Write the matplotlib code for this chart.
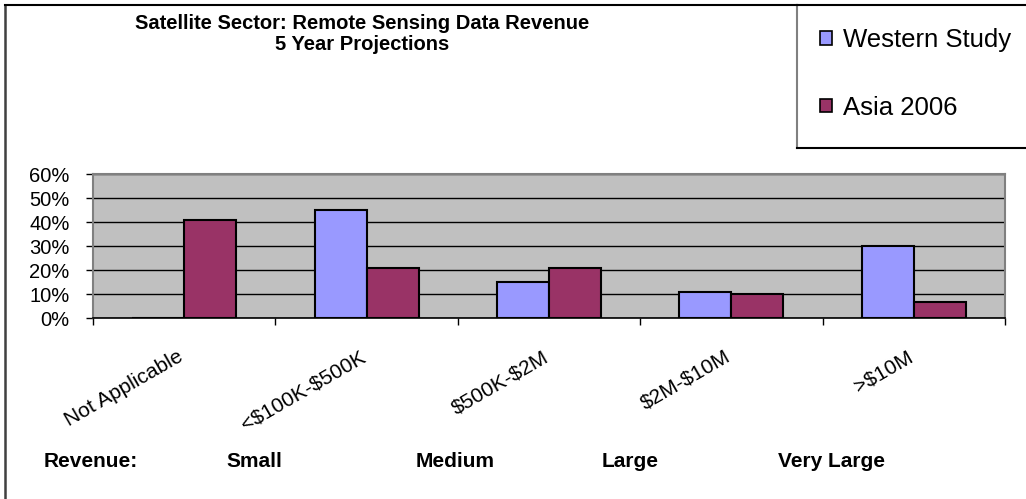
import matplotlib

matplotlib.use("Agg")
import matplotlib.pyplot as plt
import matplotlib.transforms as mtransforms
import numpy as np
from matplotlib.lines import Line2D
from matplotlib.patches import Patch
from matplotlib.ticker import PercentFormatter

plt.rcParams["font.family"] = ["Liberation Sans", "DejaVu Sans"]
plt.rcParams["text.parse_math"] = False  # labels carry literal $ signs

categories = ["Not Applicable", "<$100K-$500K", "$500K-$2M", "$2M-$10M", ">$10M"]
size_classes = ["Revenue:", "Small", "Medium", "Large", "Very Large"]
western_study = [0, 45, 15, 11, 30]
asia_2006 = [41, 21, 21, 10, 6.5]
series_names = ["Western Study", "Asia 2006"]

colors = {"western": "#9999ff", "asia": "#993366", "plot_bg": "#c0c0c0"}

W, H = 1026, 499
fig = plt.figure(figsize=(W / 100, H / 100), dpi=100, facecolor="white")

# plot area in pixel terms
ax = fig.add_axes([93 / W, (H - 318) / H, 912 / W, 144 / H])
ax.set_facecolor(colors["plot_bg"])

x = np.arange(len(categories))
bw = 0.285
ax.bar(x - bw / 2, western_study, bw, color=colors["western"], edgecolor="black", linewidth=1.5, zorder=3)
ax.bar(x + bw / 2, asia_2006, bw, color=colors["asia"], edgecolor="black", linewidth=1.5, zorder=3)

ax.set_xlim(-0.5, len(categories) - 0.5)
ax.set_ylim(0, 60)
ax.set_yticks(np.arange(0, 61, 10))
ax.yaxis.set_major_formatter(PercentFormatter(decimals=0))
ax.yaxis.grid(True, color="black", linewidth=1.0, zorder=1)
ax.set_axisbelow(True)

# boundary ticks (major) and labels at centres (minor)
ax.set_xticks(np.arange(-0.5, len(categories), 1.0))
ax.set_xticklabels([])
ax.set_xticks(x, minor=True)
ax.set_xticklabels(categories, minor=True, rotation=30, ha="right", rotation_mode="anchor", fontsize=15)
ax.tick_params(axis="x", which="minor", length=0, pad=21)
ax.tick_params(axis="x", which="major", length=5, width=1, color="black")
ax.tick_params(axis="y", length=5, width=1, pad=12, labelsize=14.5)
shift = mtransforms.ScaledTranslation(-7 / 100, 0, fig.dpi_scale_trans)
for lbl in ax.get_xticklabels(minor=True):
    lbl.set_transform(lbl.get_transform() + shift)

for side in ("top", "right", "left"):
    ax.spines[side].set_color("#808080")
    ax.spines[side].set_linewidth(1.5)
ax.spines["bottom"].set_color("black")
ax.spines["bottom"].set_linewidth(1.2)

# title
fig.text(362 / W, 1 - 29 / H, "Satellite Sector: Remote Sensing Data Revenue",
         ha="center", va="baseline", fontsize=14.5, fontweight="bold")
fig.text(362 / W, 1 - 50 / H, "5 Year Projections",
         ha="center", va="baseline", fontsize=14.5, fontweight="bold")

# revenue size row
for name, px in zip(size_classes, [44, 226, 416, 602, 778]):
    fig.text(px / W, 1 - 467 / H, name, ha="left", va="baseline", fontsize=15, fontweight="bold")

# outer chart border
fig.add_artist(Line2D([4.5 / W, 4.5 / W], [0, 1 - 4.5 / H], color="#404040", linewidth=1.8))
fig.add_artist(Line2D([4.5 / W, 797 / W], [1 - 4.5 / H, 1 - 4.5 / H], color="black", linewidth=1.5))

# legend box
fig.add_artist(Line2D([797 / W, 797 / W], [1 - 148 / H, 1 - 4.5 / H], color="#808080", linewidth=1.5))
fig.add_artist(Line2D([797 / W, 1], [1 - 4.5 / H, 1 - 4.5 / H], color="black", linewidth=1.5))
fig.add_artist(Line2D([797 / W, 1], [1 - 148 / H, 1 - 148 / H], color="black", linewidth=1.5))

handles = [
    Patch(facecolor=colors["western"], edgecolor="black", linewidth=1.2),
    Patch(facecolor=colors["asia"], edgecolor="black", linewidth=1.2),
]
fig.legend(handles, series_names, loc="upper left", bbox_to_anchor=(820 / W, 1 - 28 / H),
           frameon=False, fontsize=18.5, handlelength=0.45, handleheight=0.45,
           handletextpad=0.45, labelspacing=1.7, borderpad=0, borderaxespad=0)

fig.savefig("out.png", dpi=100, facecolor="white")
